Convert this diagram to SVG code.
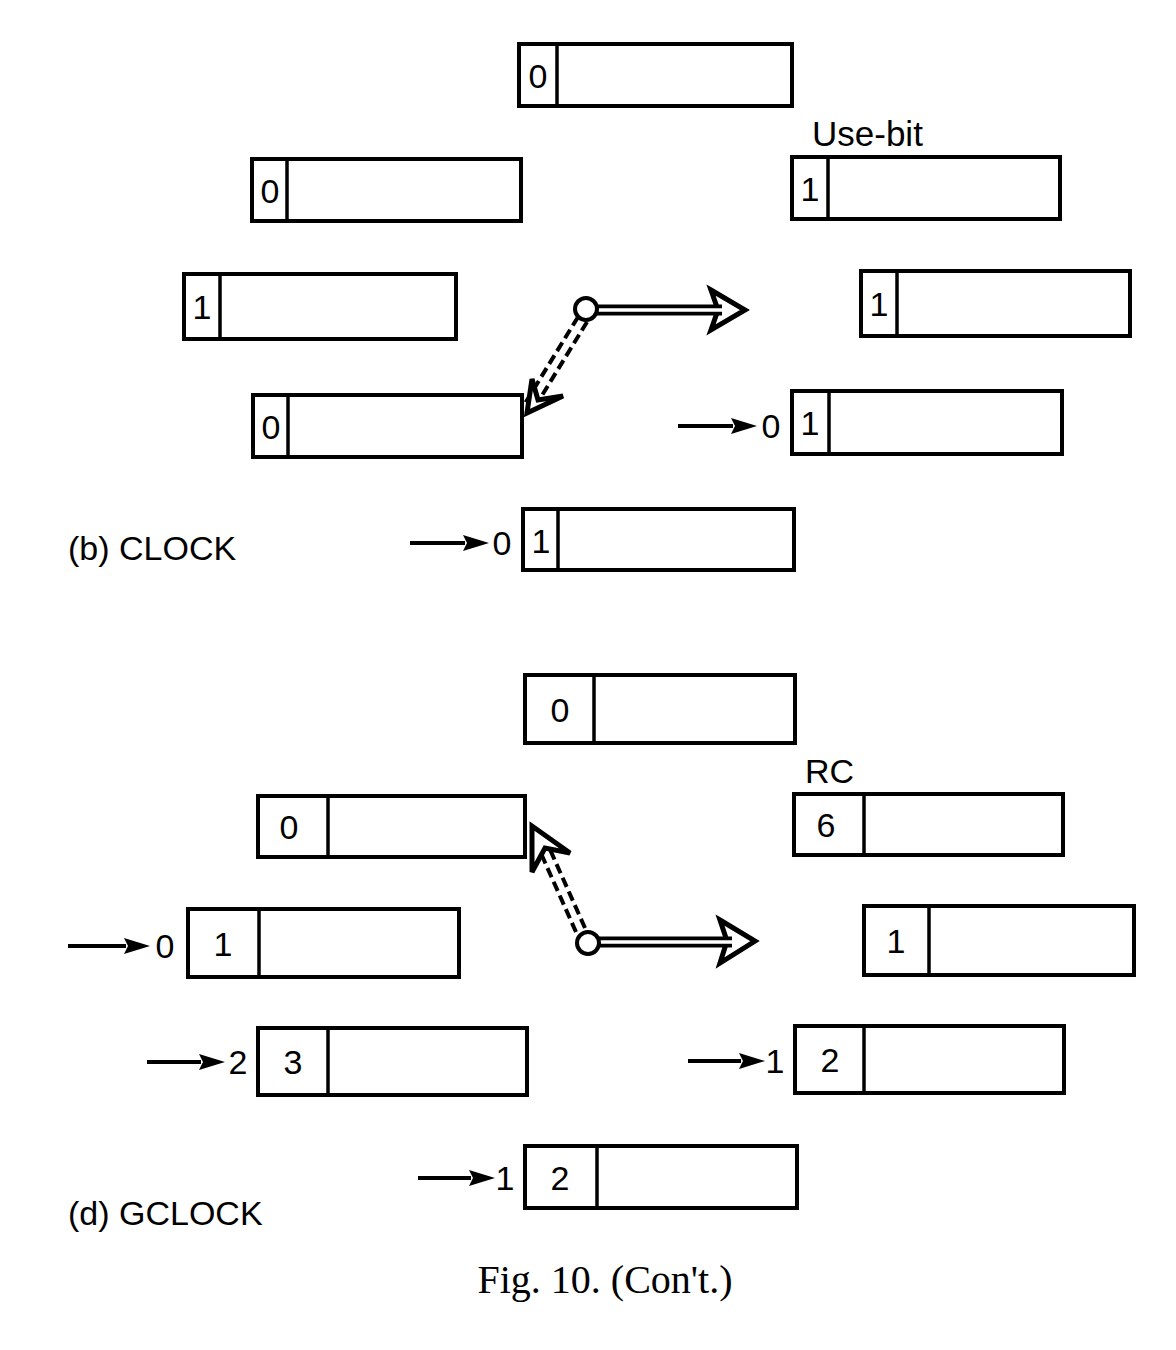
<svg xmlns="http://www.w3.org/2000/svg" width="1176" height="1350" viewBox="0 0 1176 1350">
<defs>
<style>
.box{fill:#fff;stroke:#000;stroke-width:4}
.div{stroke:#000;stroke-width:3.5}
.t{font-family:"Liberation Sans",Arial,sans-serif;font-size:34px;fill:#000}
.u{font-family:"Liberation Sans",Arial,sans-serif;font-size:35px;fill:#000}
.d{font-family:"Liberation Sans",Arial,sans-serif;font-size:34px;fill:#000;text-anchor:middle}
.cap{font-family:"Liberation Serif","Times New Roman",serif;font-size:40px;fill:#000;text-anchor:middle}
.ar{stroke:#000;stroke-width:4;fill:none}
.sh{stroke:#000;stroke-width:11;fill:none}
.shi{stroke:#fff;stroke-width:3.5;fill:none}
.dsh{stroke:#000;stroke-width:4;fill:none;stroke-dasharray:10 5}
.head{stroke:#000;stroke-width:5;fill:#fff;stroke-linejoin:miter}
</style>
<marker id="ah" viewBox="0 0 26 16" refX="2" refY="8" markerWidth="26" markerHeight="16" markerUnits="userSpaceOnUse" orient="auto">
<path d="M0,0 L26,8 L0,16 L4,8 z" fill="#000"/>
</marker>
</defs>
<rect width="1176" height="1350" fill="#fff"/>

<!-- CLOCK -->
<g id="clock-a"><rect class="box" x="519" y="44" width="273" height="62"/><line class="div" x1="557" y1="44" x2="557" y2="106"/><text class="d" x="538" y="88">0</text></g>
<g id="clock-b"><rect class="box" x="252" y="159" width="269" height="62"/><line class="div" x1="287" y1="159" x2="287" y2="221"/><text class="d" x="270" y="203">0</text></g>
<g id="clock-c"><rect class="box" x="792" y="157" width="268" height="62"/><line class="div" x1="828" y1="157" x2="828" y2="219"/><text class="d" x="810" y="201">1</text></g>
<g id="clock-d"><rect class="box" x="184" y="274" width="272" height="65"/><line class="div" x1="220" y1="274" x2="220" y2="339"/><text class="d" x="202" y="319">1</text></g>
<g id="clock-e"><rect class="box" x="861" y="271" width="269" height="65"/><line class="div" x1="897" y1="271" x2="897" y2="336"/><text class="d" x="879" y="316">1</text></g>
<g id="clock-f"><rect class="box" x="253" y="395" width="269" height="62"/><line class="div" x1="288" y1="395" x2="288" y2="457"/><text class="d" x="271" y="439">0</text></g>
<g id="clock-g"><rect class="box" x="792" y="391" width="270" height="63"/><line class="div" x1="829" y1="391" x2="829" y2="454"/><text class="d" x="810" y="435">1</text><text class="d" x="771" y="438">0</text></g>
<g id="clock-h"><rect class="box" x="523" y="509" width="271" height="61"/><line class="div" x1="558" y1="509" x2="558" y2="570"/><text class="d" x="541" y="553">1</text><text class="d" x="502" y="555">0</text></g>
<text class="u" x="812" y="146">Use-bit</text>
<text class="t" x="68" y="560">(b) CLOCK</text>

<!-- GCLOCK -->
<g id="gclock-a"><rect class="box" x="525" y="675" width="270" height="68"/><line class="div" x1="594" y1="675" x2="594" y2="743"/><text class="d" x="560" y="722">0</text></g>
<g id="gclock-b"><rect class="box" x="258" y="796" width="267" height="61"/><line class="div" x1="328" y1="796" x2="328" y2="857"/><text class="d" x="289" y="839">0</text></g>
<g id="gclock-c"><rect class="box" x="794" y="794" width="269" height="61"/><line class="div" x1="864" y1="794" x2="864" y2="855"/><text class="d" x="826" y="837">6</text></g>
<g id="gclock-d"><rect class="box" x="188" y="909" width="271" height="68"/><line class="div" x1="259" y1="909" x2="259" y2="977"/><text class="d" x="223" y="956">1</text><text class="d" x="165" y="958">0</text></g>
<g id="gclock-e"><rect class="box" x="864" y="906" width="270" height="69"/><line class="div" x1="929" y1="906" x2="929" y2="975"/><text class="d" x="896" y="953">1</text></g>
<g id="gclock-f"><rect class="box" x="258" y="1028" width="269" height="67"/><line class="div" x1="328" y1="1028" x2="328" y2="1095"/><text class="d" x="293" y="1074">3</text><text class="d" x="238" y="1074">2</text></g>
<g id="gclock-g"><rect class="box" x="795" y="1026" width="269" height="67"/><line class="div" x1="864" y1="1026" x2="864" y2="1093"/><text class="d" x="830" y="1072">2</text><text class="d" x="775" y="1073">1</text></g>
<g id="gclock-h"><rect class="box" x="525" y="1146" width="272" height="62"/><line class="div" x1="597" y1="1146" x2="597" y2="1208"/><text class="d" x="560" y="1190">2</text><text class="d" x="505" y="1190">1</text></g>
<text class="t" x="805" y="783">RC</text>
<text class="t" x="68" y="1225">(d) GCLOCK</text>

<text class="cap" x="605" y="1293">Fig. 10. (Con't.)</text>

<g id="connectors">
<!-- small pointer arrows -->
<line class="ar" x1="678" y1="426" x2="733" y2="426" marker-end="url(#ah)"/>
<line class="ar" x1="410" y1="543" x2="465" y2="543" marker-end="url(#ah)"/>
<line class="ar" x1="68" y1="946" x2="126" y2="946" marker-end="url(#ah)"/>
<line class="ar" x1="147" y1="1062" x2="201" y2="1062" marker-end="url(#ah)"/>
<line class="ar" x1="688" y1="1061" x2="741" y2="1061" marker-end="url(#ah)"/>
<line class="ar" x1="418" y1="1178" x2="471" y2="1178" marker-end="url(#ah)"/>

<!-- CLOCK hand -->
<path class="head" d="M711,290 L745,310 L711,330 L718,310 z"/>
<line class="sh" x1="596" y1="310" x2="722" y2="310"/>
<line class="shi" x1="596" y1="310" x2="734" y2="310"/>
<line class="dsh" x1="578" y1="317" x2="524" y2="405"/>
<line class="dsh" x1="587" y1="322" x2="533" y2="410"/>
<path class="head" d="M532,379 L527,413 L563,396 L538,400 z"/>
<circle cx="586" cy="309" r="11" fill="#fff" stroke="#000" stroke-width="4"/>

<!-- GCLOCK hand -->
<path class="head" d="M720,920 L755,941 L720,963 L727,941 z"/>
<line class="sh" x1="598" y1="942" x2="732" y2="942"/>
<line class="shi" x1="598" y1="942" x2="744" y2="942"/>
<line class="dsh" x1="576" y1="932" x2="535" y2="840"/>
<line class="dsh" x1="585" y1="928" x2="544" y2="836"/>
<path class="head" d="M532,872 L532,826 L570,853 L545,848 z"/>
<circle cx="588" cy="943" r="11" fill="#fff" stroke="#000" stroke-width="4"/>
</g>
</svg>
